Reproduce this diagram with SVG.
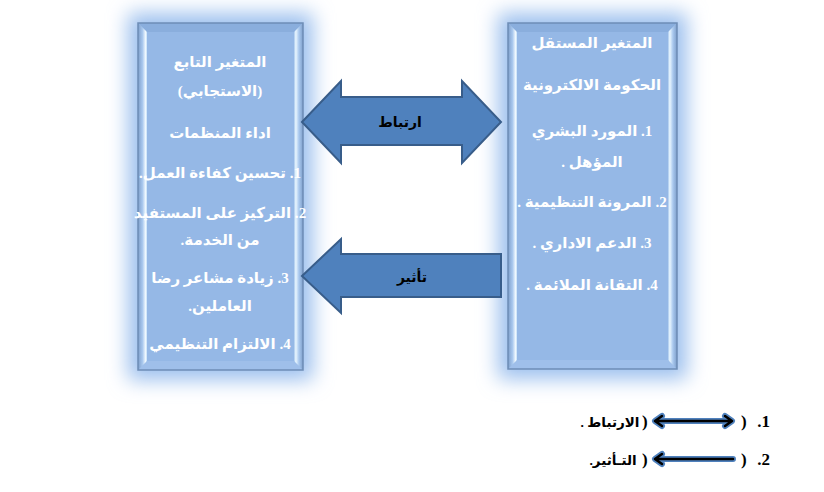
<svg xmlns="http://www.w3.org/2000/svg" width="824" height="492" viewBox="0 0 824 492">
<defs>
<filter id="glow" x="-40%" y="-40%" width="180%" height="180%">
<feGaussianBlur stdDeviation="10"/>
</filter>
<linearGradient id="sideL" x1="0" y1="0" x2="1" y2="0">
<stop offset="0" stop-color="#7E9FCB"/>
<stop offset="0.5" stop-color="#A9C8EE"/>
<stop offset="0.85" stop-color="#F2FAFF"/>
<stop offset="1" stop-color="#BFDDF8"/>
</linearGradient>
<linearGradient id="sideR" x1="1" y1="0" x2="0" y2="0">
<stop offset="0" stop-color="#7E9FCB"/>
<stop offset="0.45" stop-color="#A9C8EE"/>
<stop offset="0.8" stop-color="#EAF7FF"/>
<stop offset="1" stop-color="#A6C6EC"/>
</linearGradient>
</defs>
<style>
.glow{fill:#9CC0EE;filter:url(#glow);}
.edge{fill:none;stroke:#6E8DB6;stroke-width:1.5;}
.face{fill:#95B8E6;}
.top{fill:#8AAEDD;}
.bot{fill:#9FBFEA;}
.wt{font-family:"Liberation Serif","DejaVu Sans",serif;font-weight:bold;font-size:15px;fill:#FFFFFF;text-anchor:middle;}
.arrow{fill:#4F81BD;stroke:#385D8A;stroke-width:2;stroke-linejoin:miter;}
.lbl{font-family:"Liberation Serif","DejaVu Sans",serif;font-size:14px;font-weight:bold;fill:#000;text-anchor:middle;}
.lg{font-family:"Liberation Serif","DejaVu Sans",serif;font-weight:bold;font-size:17px;fill:#000;}
.lga{font-family:"Liberation Serif","DejaVu Sans",serif;font-weight:bold;font-size:13.5px;fill:#000;text-anchor:middle;}
.lgb{fill:none;stroke:#4F81BD;stroke-width:6;stroke-linecap:round;stroke-linejoin:round;}
.lgk{fill:none;stroke:#000;stroke-width:2.6;stroke-linecap:round;stroke-linejoin:round;}
</style>
<rect width="824" height="492" fill="#FFFFFF"/>

<g id="dependent-box">
<rect class="glow" x="128" y="13" width="185" height="367"/>
<rect class="face" x="138" y="23" width="165" height="347"/>
<polygon class="top" points="138,23 303,23 294,32 147,32"/>
<polygon class="bot" points="138,370 303,370 294,361 147,361"/>
<polygon fill="url(#sideL)" points="138,23 147,32 147,361 138,370"/>
<polygon fill="url(#sideR)" points="303,23 294,32 294,361 303,370"/>
<rect class="edge" x="138" y="23" width="165" height="347"/>
<text class="wt" direction="rtl" x="220" y="67">المتغير التابع</text>
<text class="wt" direction="rtl" x="220" y="96">(الاستجابي)</text>
<text class="wt" direction="rtl" x="220" y="138">اداء المنظمات</text>
<text class="wt" direction="rtl" x="220" y="178">1. تحسين كفاءة العمل.</text>
<text class="wt" direction="rtl" x="220" y="218">2. التركيز على المستفيد</text>
<text class="wt" direction="rtl" x="220" y="245">من الخدمة.</text>
<text class="wt" direction="rtl" x="220" y="283">3. زيادة مشاعر رضا</text>
<text class="wt" direction="rtl" x="220" y="311">العاملين.</text>
<text class="wt" direction="rtl" x="220" y="349">4. الالتزام التنظيمي</text>
</g>

<g id="independent-box">
<rect class="glow" x="498" y="13" width="189" height="366"/>
<rect class="face" x="508" y="23" width="169" height="346"/>
<polygon class="top" points="508,23 677,23 668,32 517,32"/>
<polygon class="bot" points="508,369 677,369 668,360 517,360"/>
<polygon fill="url(#sideL)" points="508,23 517,32 517,360 508,369"/>
<polygon fill="url(#sideR)" points="677,23 668,32 668,360 677,369"/>
<rect class="edge" x="508" y="23" width="169" height="346"/>
<text class="wt" direction="rtl" x="592" y="48">المتغير المستقل</text>
<text class="wt" direction="rtl" x="592" y="90">الحكومة الالكترونية</text>
<text class="wt" direction="rtl" x="592" y="136">1. المورد البشري</text>
<text class="wt" direction="rtl" x="592" y="167">المؤهل .</text>
<text class="wt" direction="rtl" x="592" y="207">2. المرونة التنظيمية .</text>
<text class="wt" direction="rtl" x="592" y="248">3. الدعم الاداري .</text>
<text class="wt" direction="rtl" x="592" y="290">4. التقانة الملائمة .</text>
</g>

<g id="connectors">
<g id="correlation-arrow">
<polygon class="arrow" points="302,122 341,81 341,97 462,97 462,81 501,122 462,163 462,145 341,145 341,163"/>
<text class="lbl" direction="rtl" x="400" y="127">ارتباط</text>
</g>
<g id="influence-arrow">
<polygon class="arrow" points="302,276 341,239 341,254 501,254 501,297 341,297 341,313"/>
<text class="lbl" direction="rtl" x="412" y="282">تأثير</text>
</g>
</g>

<g id="legend">
<text class="lg" x="770" y="427" text-anchor="end">.1</text>
<text class="lg" x="741" y="427">)</text>
<path class="lgb" d="M656,421 H731 M662,416 L655,421 L662,426 M725,416 L732,421 L725,426"/>
<path class="lgk" d="M656,421 H731 M662,416 L655,421 L662,426 M725,416 L732,421 L725,426"/>
<text class="lg" x="642" y="427">)</text>
<text class="lga" direction="rtl" x="610" y="427">الارتباط .</text>
<text class="lg" x="770" y="465" text-anchor="end">.2</text>
<text class="lg" x="741" y="465">)</text>
<path class="lgb" d="M656,459 H733 M662,454 L655,459 L662,464"/>
<path class="lgk" d="M656,459 H733 M662,454 L655,459 L662,464"/>
<text class="lg" x="642" y="465">)</text>
<text class="lga" direction="rtl" x="613" y="465">التـأثير.</text>
</g>
</svg>
